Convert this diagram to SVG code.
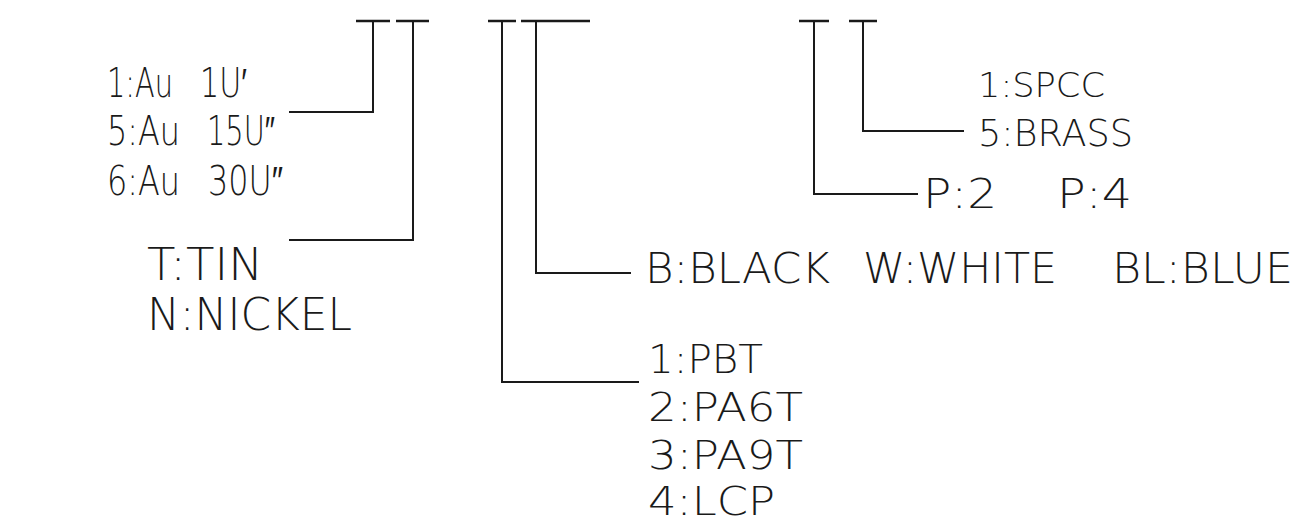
<svg xmlns="http://www.w3.org/2000/svg" width="1294" height="525" viewBox="0 0 1294 525">
  <style>
    .bg { fill: #ffffff; }
    .ln { fill: none; stroke: #1a1a1a; stroke-width: 2; stroke-linecap: square; }
    .bar { fill: none; stroke: #1a1a1a; stroke-width: 2.5; }
    text { font-family: "DejaVu Sans", "Liberation Sans", sans-serif; font-weight: 200; fill: #1a1a1a; }
    .s40 { font-size: 40px; }
    .s46 { font-size: 45px; }
    .s43 { font-size: 42px; }
    .s39 { font-size: 39px; }
    .s34 { font-size: 33px; }
    .s38 { font-size: 37px; }
    .s42 { font-size: 41px; }
  </style>
  <rect class="bg" x="0" y="0" width="1294" height="525"/>

  <g id="connectors">
    <line class="bar" x1="356" y1="21" x2="390" y2="21"/>
    <line class="bar" x1="396" y1="21" x2="429" y2="21"/>
    <line class="bar" x1="488" y1="21" x2="516" y2="21"/>
    <line class="bar" x1="521" y1="21" x2="590" y2="21"/>
    <line class="bar" x1="799" y1="21" x2="829" y2="21"/>
    <line class="bar" x1="849" y1="21" x2="877" y2="21"/>
    <polyline class="ln" points="373,21 373,112 290,112"/>
    <polyline class="ln" points="413,21 413,240 290,240"/>
    <polyline class="ln" points="502,21 502,382 638,382"/>
    <polyline class="ln" points="536,21 536,273 630,273"/>
    <polyline class="ln" points="814,21 814,194 917,194"/>
    <polyline class="ln" points="863,21 863,131 963,131"/>
  </g>

  <g id="plating-au">
    <text class="s40" x="107" y="97" textLength="66" lengthAdjust="spacingAndGlyphs">1:Au</text>
    <text class="s40" x="200" y="97" textLength="47" lengthAdjust="spacingAndGlyphs">1U′</text>
    <text class="s40" x="107" y="145" textLength="73" lengthAdjust="spacingAndGlyphs">5:Au</text>
    <text class="s40" x="207" y="145" textLength="68" lengthAdjust="spacingAndGlyphs">15U″</text>
    <text class="s40" x="107" y="195" textLength="73" lengthAdjust="spacingAndGlyphs">6:Au</text>
    <text class="s40" x="208" y="195" textLength="75" lengthAdjust="spacingAndGlyphs">30U″</text>
  </g>

  <g id="plating-base">
    <text class="s46" x="147" y="280" textLength="116" lengthAdjust="spacingAndGlyphs">T:TIN</text>
    <text class="s46" x="147" y="330" textLength="205" lengthAdjust="spacingAndGlyphs">N:NICKEL</text>
  </g>

  <g id="color">
    <text class="s43" x="645" y="283" textLength="185" lengthAdjust="spacingAndGlyphs">B:BLACK</text>
    <text class="s43" x="863" y="283" textLength="194" lengthAdjust="spacingAndGlyphs">W:WHITE</text>
    <text class="s43" x="1112" y="283" textLength="181" lengthAdjust="spacingAndGlyphs">BL:BLUE</text>
  </g>

  <g id="material">
    <text class="s39" x="648" y="373" textLength="115" lengthAdjust="spacingAndGlyphs">1:PBT</text>
    <text class="s39" x="648" y="421" textLength="155" lengthAdjust="spacingAndGlyphs">2:PA6T</text>
    <text class="s39" x="648" y="469" textLength="155" lengthAdjust="spacingAndGlyphs">3:PA9T</text>
    <text class="s39" x="648" y="515" textLength="127" lengthAdjust="spacingAndGlyphs">4:LCP</text>
  </g>

  <g id="shell">
    <text class="s34" x="978" y="97" textLength="127" lengthAdjust="spacingAndGlyphs">1:SPCC</text>
    <text class="s38" x="978" y="146" textLength="155" lengthAdjust="spacingAndGlyphs">5:BRASS</text>
  </g>

  <g id="pitch">
    <text class="s42" x="923" y="208" textLength="74" lengthAdjust="spacingAndGlyphs">P:2</text>
    <text class="s42" x="1057" y="208" textLength="75" lengthAdjust="spacingAndGlyphs">P:4</text>
  </g>
</svg>
